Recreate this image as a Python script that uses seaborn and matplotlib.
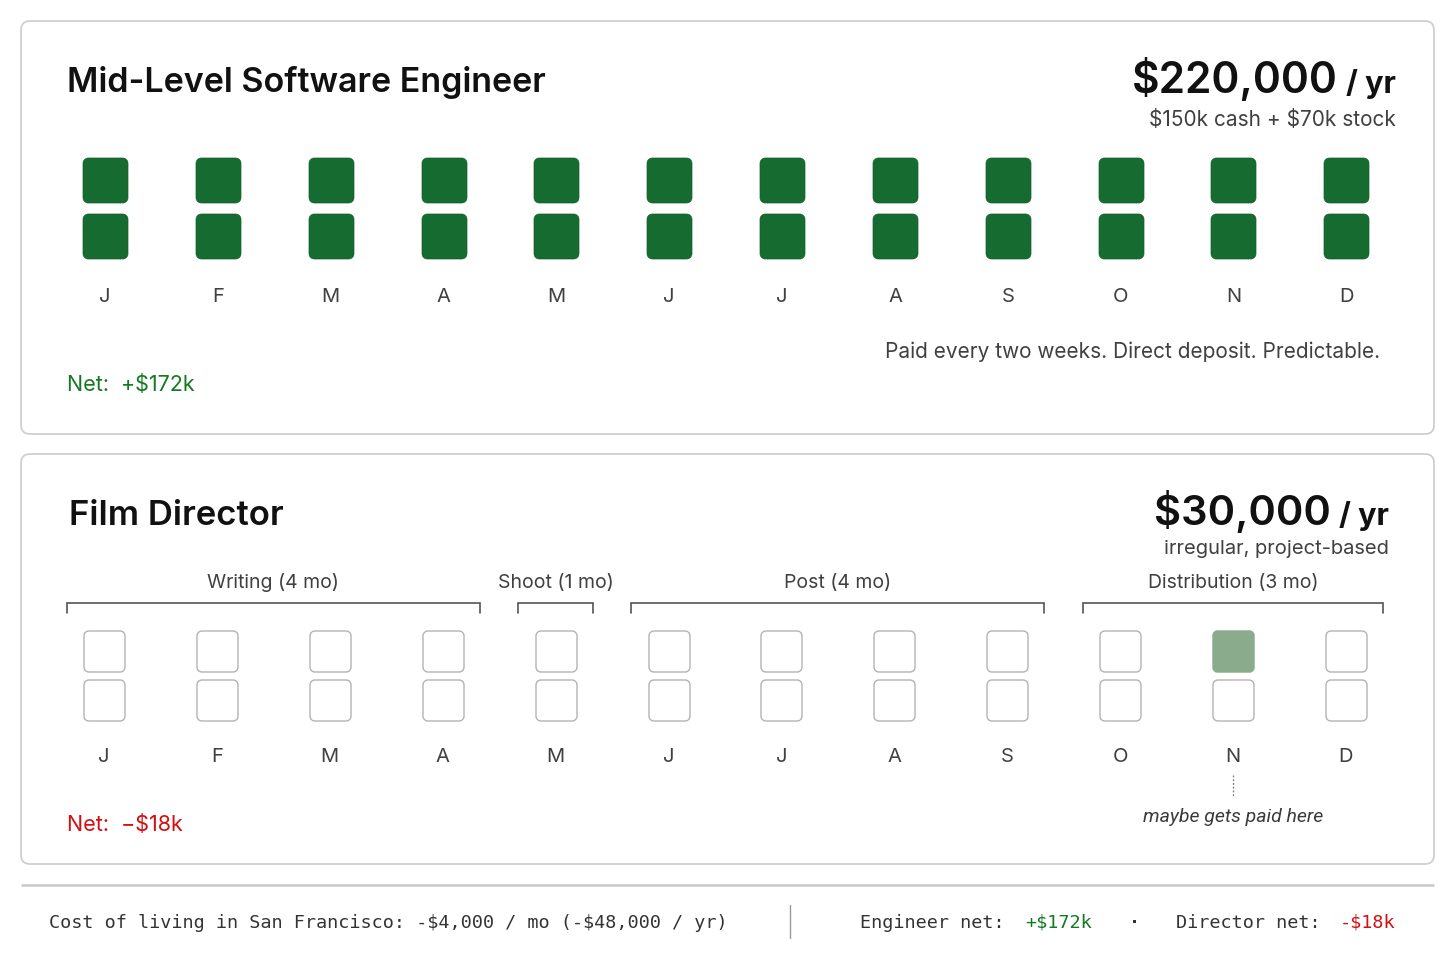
import numpy as np
import pandas as pd
import matplotlib
matplotlib.use("Agg")
import matplotlib.pyplot as plt
import seaborn as sns
from matplotlib.path import Path
from matplotlib.patches import FancyBboxPatch
from matplotlib import transforms

# ---------------- data ----------------
months = ["J", "F", "M", "A", "M", "J", "J", "A", "S", "O", "N", "D"]
engineer_checks_per_month = [2, 2, 2, 2, 2, 2, 2, 2, 2, 2, 2, 2]
director_top_slot = ["empty", "empty", "empty", "empty", "empty", "empty",
                     "empty", "empty", "empty", "empty", "maybe", "empty"]
director_bottom_slot = ["empty"] * 12
phase_names = ["Writing", "Shoot", "Post", "Distribution"]
phase_lengths = [4, 1, 4, 3]
engineer_cash_k = 150
engineer_stock_k = 70
director_pay = 30000
cost_of_living_month = 4000

engineer_total = (engineer_cash_k + engineer_stock_k) * 1000
cost_year = cost_of_living_month * 12
engineer_net_k = (engineer_total - cost_year) // 1000
director_net_k = (director_pay - cost_year) // 1000

# ---------------- style ----------------
sns.set_theme(style="white")
plt.rcParams["font.family"] = ["Inter", "DejaVu Sans"]
plt.rcParams["text.parse_math"] = False

W, H = 1456, 971
fig = plt.figure(figsize=(W / 100, H / 100), dpi=100)
fig.patch.set_facecolor("white")

bg = fig.add_axes([0, 0, 1, 1])
bg.set_xlim(0, W)
bg.set_ylim(H, 0)
bg.axis("off")

GREEN = "#156b30"
LIGHT_GREEN = "#8aac8d"
EMPTY_EDGE = "#b3b3b3"
TXT = "#404040"
NET_GREEN = "#137a22"
NET_RED = "#d40f0f"

# panels
for (y0, y1) in [(21, 434), (454, 864)]:
    bg.add_patch(FancyBboxPatch((21, y0), 1413, y1 - y0,
                                boxstyle="round,pad=0,rounding_size=9",
                                facecolor="white", edgecolor="#cfcfcf", lw=1.3))
# footer separator
bg.plot([21, 1434], [885, 885], color="#c9c9c9", lw=1.8, solid_capstyle="butt")
bg.plot([790, 790], [905, 938], color="#9a9a9a", lw=1.0)


def rounded_square(r=0.24, n=10):
    verts = []
    corners = [(1 - r, 1 - r, 0), (-1 + r, 1 - r, 90),
               (-1 + r, -1 + r, 180), (1 - r, -1 + r, 270)]
    for cx, cy, a0 in corners:
        for t in np.linspace(a0, a0 + 90, n):
            verts.append((cx + r * np.cos(np.radians(t)), cy + r * np.sin(np.radians(t))))
    verts.append(verts[0])
    codes = [Path.MOVETO] + [Path.LINETO] * (len(verts) - 2) + [Path.CLOSEPOLY]
    return Path(verts, codes)


RSQ = rounded_square()


def grid_axes(x_first, step, y_top_center, slot_gap):
    left = x_first - step / 2
    top = y_top_center - slot_gap / 2
    ax = fig.add_axes([left / W, 1 - (top + 2 * slot_gap) / H,
                       12 * step / W, 2 * slot_gap / H])
    ax.set_xlim(-0.5, 11.5)
    ax.set_ylim(1.5, -0.5)
    ax.patch.set_alpha(0)
    for s in ax.spines.values():
        s.set_visible(False)
    return ax


def style_months(ax):
    ax.set_xticks(range(12), months)
    ax.set_yticks([])
    ax.set_xlabel("")
    ax.set_ylabel("")
    ax.tick_params(axis="x", length=0, pad=17, labelsize=14.5, labelcolor=TXT)


# ---------------- engineer ----------------
eng = pd.DataFrame([{"month": i, "slot": s}
                    for i, n in enumerate(engineer_checks_per_month) for s in range(n)])
ax1 = grid_axes(105, 112.85, 180, 56)
sns.scatterplot(data=eng, x="month", y="slot", marker=RSQ, s=(45 * 0.72) ** 2,
                color=GREEN, edgecolor="#125f2a", linewidth=0.5, ax=ax1, legend=False)
style_months(ax1)

# ---------------- director ----------------
rows = []
for i in range(12):
    rows.append({"month": i, "slot": 0, "status": director_top_slot[i]})
    rows.append({"month": i, "slot": 1, "status": director_bottom_slot[i]})
dirdf = pd.DataFrame(rows)
ax2 = grid_axes(104, 112.9, 651, 49)
sns.scatterplot(data=dirdf[dirdf.status == "empty"], x="month", y="slot", marker=RSQ,
                s=(41 * 0.72) ** 2, color="white", edgecolor=EMPTY_EDGE, linewidth=1.0,
                ax=ax2, legend=False)
sns.scatterplot(data=dirdf[dirdf.status == "maybe"], x="month", y="slot", marker=RSQ,
                s=(42 * 0.72) ** 2, color=LIGHT_GREEN, edgecolor=LIGHT_GREEN, linewidth=0.3,
                ax=ax2, legend=False)
style_months(ax2)

# phase brackets
tr = transforms.blended_transform_factory(ax2.transData, bg.transData)
start = 0
g = 0.17
for name, n in zip(phase_names, phase_lengths):
    x0 = start - 0.5 + g
    x1 = start + n - 0.5 - g
    ax2.plot([x0, x0, x1, x1], [613, 603, 603, 613], color="#555555", lw=1.2,
             transform=tr, clip_on=False, solid_joinstyle="miter")
    ax2.text((x0 + x1) / 2, 588, f"{name} ({n} mo)", transform=tr, ha="center",
             va="baseline", fontsize=14, color=TXT)
    start += n

# maybe annotation
maybe_idx = director_top_slot.index("maybe")
ax2.plot([maybe_idx, maybe_idx], [775, 797], transform=tr, color="#777777", lw=0.9,
         linestyle=(0, (1.5, 1.5)), clip_on=False)
ax2.text(maybe_idx, 822, "maybe gets paid here", transform=tr, ha="center", va="baseline",
         fontsize=14, color="#3a3a3a", style="italic", family=["Roboto", "DejaVu Sans"])

# ---------------- texts ----------------
renderer = fig.canvas.get_renderer()


def right_amount(x_right, y_base, big, small, big_size, small_size):
    t2 = bg.text(x_right, y_base, small, ha="right", va="baseline",
                 fontsize=small_size, fontweight="bold", color="#111111")
    bb = t2.get_window_extent(renderer=renderer)
    x_left = bg.transData.inverted().transform((bb.x0, 0))[0]
    bg.text(x_left - 8, y_base, big, ha="right", va="baseline",
            fontsize=big_size, fontweight="semibold", color="#111111")


bg.text(67, 92, "Mid-Level Software Engineer", fontsize=24.5, fontweight="semibold",
        color="#111111", va="baseline")
right_amount(1396, 93, f"${engineer_total:,}", "/ yr", 30.5, 22)
bg.text(1396, 126, f"${engineer_cash_k}k cash + ${engineer_stock_k}k stock", ha="right",
        va="baseline", fontsize=15, color=TXT)
bg.text(1380, 358, "Paid every two weeks. Direct deposit. Predictable.", ha="right",
        va="baseline", fontsize=15, color=TXT)
bg.text(67, 391, f"Net:  +${engineer_net_k}k", va="baseline", fontsize=15.5, color=NET_GREEN)

bg.text(69, 525, "Film Director", fontsize=25, fontweight="semibold",
        color="#111111", va="baseline")
right_amount(1389, 525, f"${director_pay:,}", "/ yr", 30, 22)
bg.text(1389, 554, "irregular, project-based", ha="right", va="baseline",
        fontsize=14.5, color=TXT)
bg.text(67, 831, f"Net:  \u2212${abs(director_net_k)}k", va="baseline", fontsize=15.5,
        color=NET_RED)

mono = dict(family=["DejaVu Sans Mono"], fontsize=13.3, va="baseline")
bg.text(49, 928, f"Cost of living in San Francisco: -${cost_of_living_month:,} / mo "
        f"(-${cost_year:,} / yr)", color="#333333", **mono)
bg.text(860, 928, "Engineer net:", color="#333333", **mono)
bg.text(1025, 928, f"+${engineer_net_k}k", color=NET_GREEN, **mono)
bg.text(1135, 928, "\u00b7", color="#333333", ha="center", fontweight="bold", **mono)
bg.text(1176, 928, "Director net:", color="#333333", **mono)
bg.text(1340, 928, f"-${abs(director_net_k)}k", color=NET_RED, **mono)

fig.savefig("out.png", dpi=100, facecolor="white")
